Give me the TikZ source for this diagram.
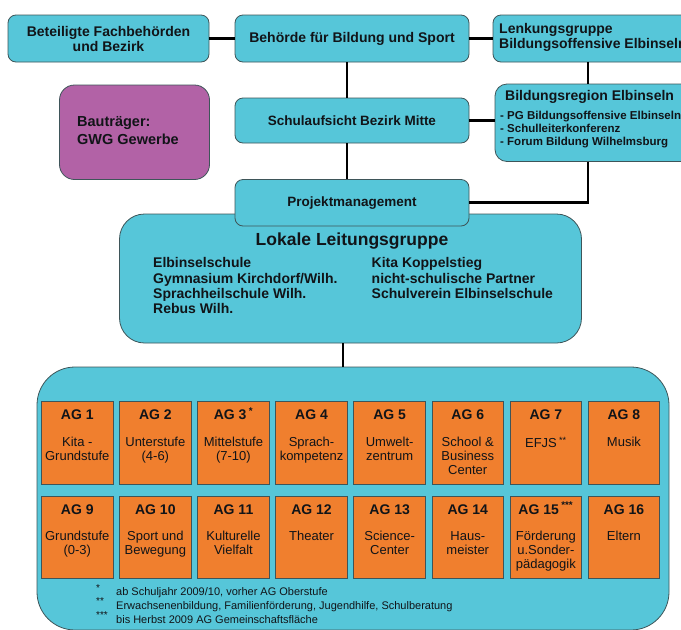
\documentclass[tikz,border=0pt]{standalone}
\usepackage{fontspec}
\setmainfont{Liberation Sans}
\usetikzlibrary{calc}
\definecolor{cy}{HTML}{56C6D9}
\definecolor{og}{HTML}{F07F2E}
\definecolor{pu}{HTML}{B262A6}
\definecolor{bd}{HTML}{3E5559}
\definecolor{tx}{HTML}{111418}
\begin{document}
\begin{tikzpicture}[x=1pt,y=-1pt,
  cbox/.style={draw=bd, line width=0.8pt, fill=cy, rounded corners=8pt, inner sep=0pt, text=tx,
    font=\bfseries\fontsize{14}{15}\selectfont},
  pbox/.style={cbox, fill=pu, rounded corners=15pt},
  agbox/.style={draw=bd, line width=0.9pt, fill=og, minimum width=71.5pt, minimum height=82.5pt, inner sep=0pt},
  aghead/.style={anchor=base, inner sep=0pt, text=tx, font=\bfseries\fontsize{14}{15}\selectfont},
  agbody/.style={anchor=north, inner sep=0pt, align=center, text=tx, font=\fontsize{13}{14}\selectfont},
  txt/.style={inner sep=0pt, text=tx, align=left},
  conn/.style={line width=2.8pt, black},
  fnote/.style={anchor=west, inner sep=0pt, text=tx, font=\fontsize{11}{12}\selectfont},
  fstar/.style={anchor=west, inner sep=0pt, text=tx, font=\fontsize{10}{10}\selectfont}
]
\clip (0,0) rectangle (681,630);
\fill[white] (0,0) rectangle (681,630);

% top row
\node[cbox, minimum width=201pt, minimum height=47pt, align=center] (beteil) at (108.5,38.5)
  {Beteiligte Fachbehörden\\und Bezirk};
\node[cbox, minimum width=234pt, minimum height=47pt] (beh) at (352,38.5) {Behörde für Bildung und Sport};
\node[cbox, minimum width=207pt, minimum height=47pt] (lenk) at (596.5,38.5) {};
\node[txt, anchor=west, font=\bfseries\fontsize{14}{14.5}\selectfont] (lenkT) at (499,37.5)
  {Lenkungsgruppe\\Bildungsoffensive Elbinseln};

% second row
\node[pbox, minimum width=150pt, minimum height=94.5pt] (bau) at (134.5,132.25) {};
\node[txt, anchor=west, font=\bfseries\fontsize{14.5}{18}\selectfont] (bauT) at (77,131)
  {Bauträger:\\GWG Gewerbe};
\node[cbox, minimum width=234pt, minimum height=45pt, font=\bfseries\fontsize{13.5}{15}\selectfont] (schul) at (352,120.5) {Schulaufsicht Bezirk Mitte};
\node[cbox, minimum width=205pt, minimum height=77.5pt, rounded corners=12pt] (bild) at (597.5,122.75) {};
\node[txt, anchor=west, font=\bfseries\fontsize{14}{15}\selectfont] (bildT) at (505,97) {Bildungsregion Elbinseln};
\node[txt, anchor=west, font=\bfseries\fontsize{11.5}{12.6}\selectfont] (bildL) at (500,129.5)
  {- PG Bildungsoffensive Elbinseln\\- Schulleiterkonferenz\\- Forum Bildung Wilhelmsburg};

% Lokale Leitungsgruppe and Projektmanagement
\node[cbox, minimum width=462pt, minimum height=129pt, rounded corners=25pt] (llg) at (350.5,278.5) {};
\node[cbox, minimum width=234pt, minimum height=46.5pt, font=\bfseries\fontsize{13.5}{15}\selectfont] (proj) at (352,202.75) {Projektmanagement};
\node[txt, font=\bfseries\fontsize{17.5}{18}\selectfont] (llgT) at (352,241) {Lokale Leitungsgruppe};
\node[txt, anchor=north west, font=\bfseries\fontsize{14}{15.3}\selectfont] (llgL) at (153,257.5)
  {Elbinselschule\\Gymnasium Kirchdorf/Wilh.\\Sprachheilschule Wilh.\\Rebus Wilh.};
\node[txt, anchor=north west, font=\bfseries\fontsize{14}{15.3}\selectfont] (llgR) at (371.5,257.5)
  {Kita Koppelstieg\\nicht-schulische Partner\\Schulverein Elbinselschule};

% container
\node[cbox, minimum width=632pt, minimum height=263pt, rounded corners=38pt] (cont) at (353,498.5) {};

% AG boxes
\foreach \i/\r/\c/\h/\b in {
  1/1/1/{AG 1}/{Kita -\\Grundstufe},
  2/1/2/{AG 2}/{Unterstufe\\(4-6)},
  3/1/3/{AG 3\,\textsuperscript{*}}/{Mittelstufe\\(7-10)},
  4/1/4/{AG 4}/{Sprach-\\kompetenz},
  5/1/5/{AG 5}/{Umwelt-\\zentrum},
  6/1/6/{AG 6}/{School \&\\Business\\Center},
  7/1/7/{AG 7}/{EFJS\,\textsuperscript{**}},
  8/1/8/{AG 8}/{Musik},
  9/2/1/{AG 9}/{Grundstufe\\(0-3)},
  10/2/2/{AG 10}/{Sport und\\Bewegung},
  11/2/3/{AG 11}/{Kulturelle\\Vielfalt},
  12/2/4/{AG 12}/{Theater},
  13/2/5/{AG 13}/{Science-\\Center},
  14/2/6/{AG 14}/{Haus-\\meister},
  15/2/7/{AG 15\,\textsuperscript{***}}/{Förderung\\u.Sonder-\\pädagogik},
  16/2/8/{AG 16}/{Eltern}} {
  \pgfmathsetmacro{\cx}{41.5+78.1*(\c-1)+35.75}
  \pgfmathsetmacro{\cy}{(\r==1 ? 401.5 : 496)+41.25}
  \node[agbox] (ag\i) at (\cx,\cy) {};
  \node[aghead] (agh\i) at ($(ag\i.north)+(0,18.5)$) {\h};
  \node[agbody] (agb\i) at ($(ag\i.north)+(0,35.5)$) {\b};
}

% footnotes
\node[fstar] (s1) at (96,588) {*};
\node[fstar] (s2) at (96,601.5) {**};
\node[fstar] (s3) at (96,615) {***};
\node[fnote] (f1) at (116,593) {ab Schuljahr 2009/10, vorher AG Oberstufe};
\node[fnote] (f2) at (116,606.7) {Erwachsenenbildung, Familienförderung, Jugendhilfe, Schulberatung};
\node[fnote] (f3) at (116,620) {bis Herbst 2009 AG Gemeinschaftsfläche};

% connectors
\coordinate (vx) at (588,0);
\coordinate (mx) at (347,0);
\coordinate (lx) at (343,0);
\draw[conn] (beteil.east) -- (beh.west);
\draw[conn] (beh.east) -- (beh.east -| lenk.west);
\draw[conn] (mx |- beh.south) -- (mx |- schul.north);
\draw[conn] (mx |- schul.south) -- (mx |- proj.north);
\draw[conn] (schul.east) -- (schul.east -| bild.west);
\draw[conn] (vx |- lenk.south) -- (vx |- bild.north);
\draw[conn] (vx |- bild.south) |- (proj.east);
\draw[conn] (lx |- llg.south) -- (lx |- cont.north);
\end{tikzpicture}
\end{document}
